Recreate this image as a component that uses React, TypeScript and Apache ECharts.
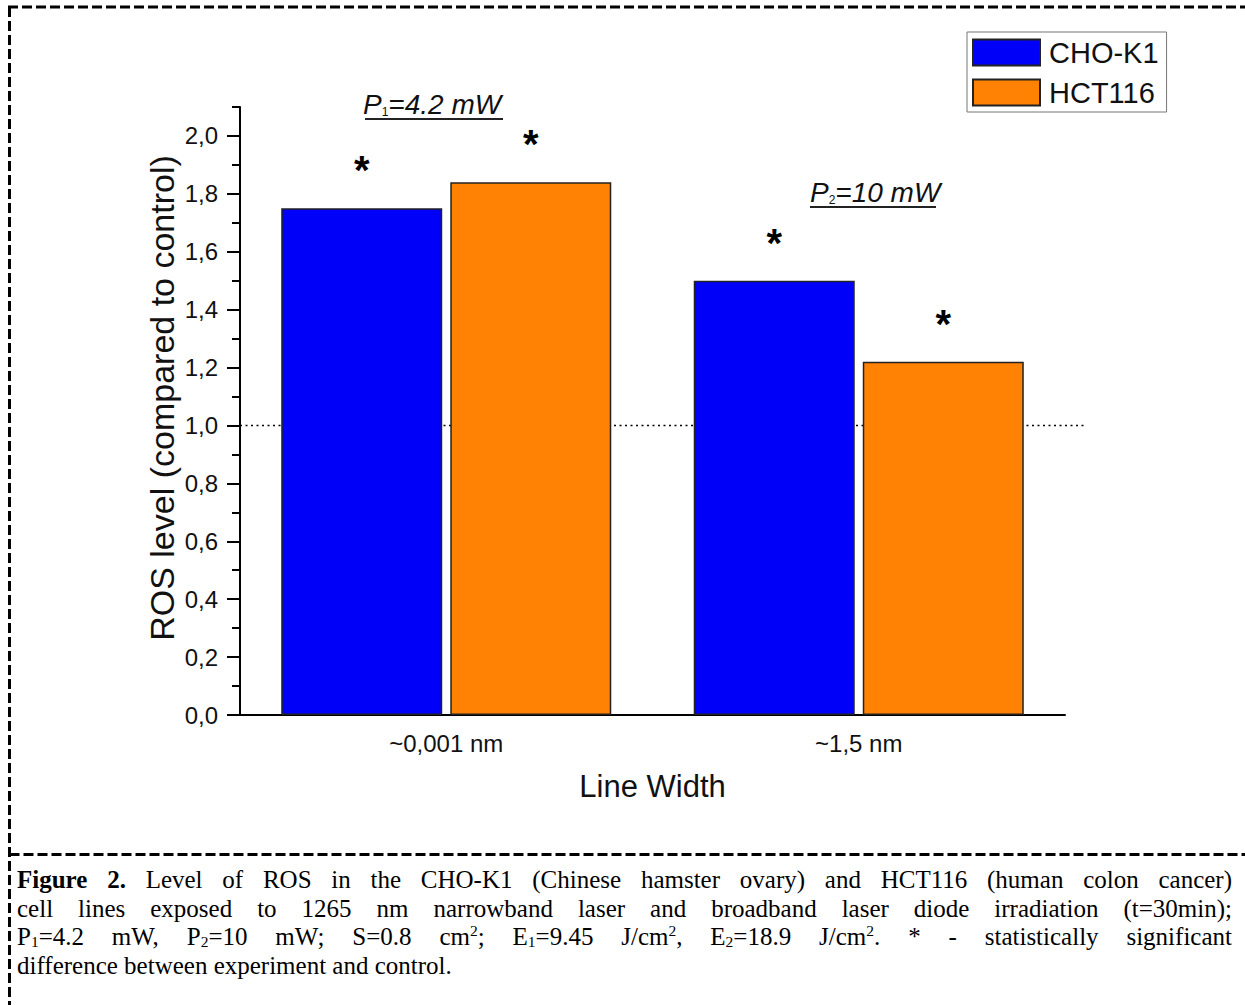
import React, { useEffect, useRef } from "react";
import * as echarts from "echarts";

// ---- data ----
const categories = ["~0,001 nm", "~1,5 nm"];
const seriesNames = ["CHO-K1", "HCT116"];
const choK1Values = [1.75, 1.5];
const hct116Values = [1.84, 1.22];
const choK1Marks = ["*", "*"];
const hct116Marks = ["*", "*"];
const yMin = 0;
const yMaxAxis = 2.1;
const yMaxLabel = 2.0;
const yMajorStep = 0.2;
const yMinorStep = 0.1;
const controlLevel = 1.0;
const xAxisName = "Line Width";
const yAxisName = "ROS level (compared to control)";

// ---- layout ----
const G_LEFT = 240;
const G_TOP = 107;
const G_W = 825;
const G_H = 608;
const SANS = '"Liberation Sans", Arial, sans-serif';
const SERIF = '"Liberation Serif", "Times New Roman", serif';

const fmt = (v: number) => v.toFixed(1).replace(".", ",");

function Chart() {
  const ref = useRef<HTMLDivElement>(null);
  useEffect(() => {
    if (!ref.current) return;
    const chart = echarts.init(ref.current, null, { renderer: "svg" });
    const grid1Top = G_TOP + G_H * (1 - yMaxLabel / yMaxAxis);
    const starLabel = (marks: string[]) => ({
      show: true,
      position: "top",
      distance: 18,
      formatter: (p: any) => marks[p.dataIndex],
      fontSize: 40,
      fontWeight: "bold",
      fontFamily: SANS,
      color: "#000",
    });
    const option: any = {
      animation: false,
      textStyle: { fontFamily: SANS },
      grid: [
        { left: G_LEFT, top: G_TOP, width: G_W, height: G_H, containLabel: false, outerBoundsMode: "none" },
        { left: G_LEFT, top: grid1Top, width: G_W, height: G_TOP + G_H - grid1Top, containLabel: false, outerBoundsMode: "none" },
      ],
      legend: {
        orient: "vertical",
        left: 967,
        top: 32,
        itemWidth: 67,
        itemHeight: 26,
        itemGap: 11,
        padding: [6, 8, 5, 5],
        borderColor: "#777",
        borderWidth: 1,
        icon: "rect",
        data: seriesNames,
        textStyle: { fontSize: 29, color: "#111", fontFamily: SANS, padding: [0, 0, 0, 4] },
      },
      xAxis: [
        {
          type: "category",
          gridIndex: 0,
          data: categories,
          axisLine: { lineStyle: { color: "#000", width: 2 } },
          axisTick: { alignWithLabel: true, length: 12, lineStyle: { color: "#000", width: 2 } },
          axisLabel: { fontSize: 24, color: "#111", margin: 16, fontFamily: SANS },
          name: xAxisName,
          nameLocation: "middle",
          nameGap: 56,
          nameTextStyle: { fontSize: 31, color: "#111", fontFamily: SANS },
        },
        {
          type: "category",
          gridIndex: 1,
          data: categories,
          axisLine: { show: false },
          axisTick: { alignWithLabel: false, length: 7, lineStyle: { color: "#000", width: 2 } },
          axisLabel: { show: false },
        },
      ],
      yAxis: [
        {
          type: "value",
          gridIndex: 0,
          min: yMin,
          max: yMaxAxis,
          interval: yMinorStep,
          axisLine: { show: true, lineStyle: { color: "#000", width: 2 } },
          axisTick: { show: true, length: 8, lineStyle: { color: "#000", width: 2 } },
          axisLabel: { show: false },
          splitLine: { show: false },
        },
        {
          type: "value",
          gridIndex: 1,
          min: yMin,
          max: yMaxLabel,
          interval: yMajorStep,
          axisLine: { show: false },
          axisTick: { show: true, length: 13, lineStyle: { color: "#000", width: 2 } },
          axisLabel: { fontSize: 24, color: "#111", margin: 22, formatter: fmt, fontFamily: SANS },
          splitLine: { show: false },
        },
      ],
      series: [
        {
          name: seriesNames[0],
          type: "bar",
          xAxisIndex: 0,
          yAxisIndex: 0,
          data: choK1Values,
          barWidth: 161,
          barGap: "5%",
          itemStyle: { color: "#0000FA", borderColor: "#222", borderWidth: 1.5 },
          label: starLabel(choK1Marks),
          z: 3,
        },
        {
          name: seriesNames[1],
          type: "bar",
          xAxisIndex: 0,
          yAxisIndex: 0,
          data: hct116Values,
          barWidth: 161,
          barGap: "5%",
          itemStyle: { color: "#FF8205", borderColor: "#222", borderWidth: 1.5 },
          label: starLabel(hct116Marks),
          z: 3,
        },
      ],
    };
    chart.setOption(option);

    const yCtrl = chart.convertToPixel({ yAxisIndex: 0 } as any, controlLevel) as number;
    const border = { stroke: "#000", lineWidth: 3, lineDash: [10, 4] };
    const pText = (x: number, y: number, sub: string, rest: string) => ({
      type: "text",
      x,
      y,
      z: 10,
      style: {
        text: `{p|P}{s|${sub}}{t|${rest}}`,
        verticalAlign: "middle",
        rich: {
          p: { fontSize: 28, fontStyle: "italic", fontFamily: SANS, fill: "#111" },
          s: { fontSize: 12, fontFamily: SANS, fill: "#111", verticalAlign: "bottom", padding: [14, 0, 0, 0] },
          t: { fontSize: 28, fontStyle: "italic", fontFamily: SANS, fill: "#111" },
        },
      },
    });
    chart.setOption({
      graphic: [
        // figure frame
        { type: "line", shape: { x1: 8, y1: 7, x2: 1245, y2: 7 }, style: border },
        { type: "line", shape: { x1: 9.5, y1: 7, x2: 9.5, y2: 1005 }, style: border },
        { type: "line", shape: { x1: 9.5, y1: 854.5, x2: 1245, y2: 854.5 }, style: border },
        // control level dotted line
        {
          type: "line",
          z: 1,
          shape: { x1: G_LEFT, y1: yCtrl, x2: G_LEFT + G_W + 20, y2: yCtrl },
          style: { stroke: "#000", lineWidth: 1.5, lineDash: [2, 3.5] },
        },
        // y axis name
        {
          type: "text",
          x: 162,
          y: 398,
          rotation: Math.PI / 2,
          style: {
            text: yAxisName,
            fontSize: 34,
            fontFamily: SANS,
            fill: "#111",
            align: "center",
            verticalAlign: "middle",
          },
        },
        // power annotations
        pText(363, 104, "1", "=4.2 mW"),
        { type: "line", shape: { x1: 365, y1: 119, x2: 503, y2: 119 }, style: { stroke: "#222", lineWidth: 2 } },
        pText(810, 192, "2", "=10 mW"),
        { type: "line", shape: { x1: 810, y1: 207, x2: 936, y2: 207 }, style: { stroke: "#222", lineWidth: 2 } },
      ],
    });
    return () => chart.dispose();
  }, []);
  return <div ref={ref} style={{ position: "absolute", left: 0, top: 0, width: 1245, height: 1005 }} />;
}

const captionLines: React.ReactNode[] = [
  <>
    <b>Figure 2.</b> Level of ROS in the CHO-K1 (Chinese hamster ovary) and HCT116 (human colon cancer)
  </>,
  <>cell lines exposed to 1265 nm narrowband laser and broadband laser diode irradiation (t=30min);</>,
  <>
    P<sub>1</sub>=4.2 mW, P<sub>2</sub>=10 mW; S=0.8 cm<sup>2</sup>; E<sub>1</sub>=9.45 J/cm<sup>2</sup>, E
    <sub>2</sub>=18.9 J/cm<sup>2</sup>. * - statistically significant
  </>,
  <>difference between experiment and control.</>,
];

export default function App() {
  const subStyle = `.cap sub, .cap sup { font-size: 0.62em; line-height: 0; } .cap sub { vertical-align: -0.15em; } .cap sup { vertical-align: 0.55em; }`;
  return (
    <div style={{ position: "absolute", left: 0, top: 0, width: 1245, height: 1005, background: "#fff", overflow: "hidden" }}>
      <style>{subStyle}</style>
      <Chart />
      <div
        className="cap"
        style={{
          position: "absolute",
          left: 17,
          top: 866,
          width: 1215,
          fontFamily: SERIF,
          fontSize: 25,
          lineHeight: "28.5px",
          color: "#000",
        }}
      >
        {captionLines.map((l, i) => (
          <div
            key={i}
            style={{
              textAlign: "justify",
              textAlignLast: i < captionLines.length - 1 ? "justify" : "left",
              whiteSpace: "nowrap",
            }}
          >
            {l}
          </div>
        ))}
      </div>
    </div>
  );
}
